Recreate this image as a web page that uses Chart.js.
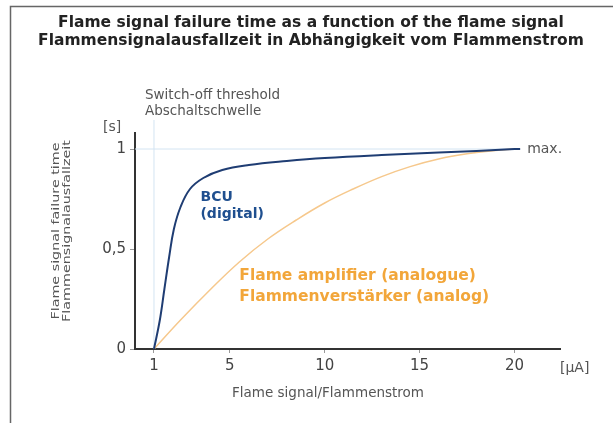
<!DOCTYPE html>
<html>
<head>
<meta charset="utf-8">
<script src="https://cdn.jsdelivr.net/npm/chart.js@4"></script>
<style>
  html, body { margin: 0; padding: 0; background: #fff; }
  #wrap { width: 613px; height: 423px; }
</style>
</head>
<body>
<div id="wrap"><canvas id="flameChart"></canvas></div>
<script>
// values
const bcuX = [1, 1.3, 1.55, 1.8, 2.05, 2.4, 2.9, 3.6, 4.6, 6, 8, 10, 13, 16, 18, 20, 20.3]
const bcuY = [0, 0.14, 0.3, 0.46, 0.6, 0.71, 0.8, 0.855, 0.895, 0.92, 0.94, 0.955, 0.97, 0.982, 0.99, 1, 1]
const ampX = [1, 2.4, 4, 5.5, 7, 8.5, 10, 11.5, 13, 14.5, 16, 17.5, 19, 20]
const ampY = [0, 0.145, 0.30, 0.435, 0.55, 0.645, 0.73, 0.80, 0.862, 0.912, 0.95, 0.976, 0.993, 1]
const thresholdX = [1, 1]
const thresholdY = [0, 1.145]
const maxLineX = [0, 20]
const maxLineY = [1, 1]
const xTicks = [1, 5, 10, 15, 20]
const yTicks = [0, 0.5, 1]
const yTickLabels = ['0', '0,5', '1']

const FONT = '"DejaVu Sans", sans-serif'
const blue = '#1f3d73'
const orange = '#f2a63a'
const lightBlue = '#d3e4f2'

function pts(xs, ys){
    return xs.map((x, i) => ({x: x, y: ys[i]}))
}

const textPlugin = {
    id: 'texts',
    beforeDraw(chart){
        const ctx = chart.ctx
        ctx.save()
        ctx.strokeStyle = '#666'
        ctx.lineWidth = 1.5
        ctx.beginPath()
        ctx.moveTo(10.5, 423)
        ctx.lineTo(10.5, 6.5)
        ctx.lineTo(613, 6.5)
        ctx.stroke()
        ctx.restore()
    },
    afterDraw(chart){
        const ctx = chart.ctx
        const xs = chart.scales.x
        const ys = chart.scales.y
        ctx.save()
        // title
        ctx.fillStyle = '#222'
        ctx.textAlign = 'center'
        ctx.textBaseline = 'middle'
        ctx.font = 'bold 15.5px ' + FONT
        ctx.fillText('Flame signal failure time as a function of the flame signal', 311, 23)
        ctx.fillText('Flammensignalausfallzeit in Abhängigkeit vom Flammenstrom', 311, 41)

        // threshold label
        ctx.fillStyle = '#555'
        ctx.font = '13.5px ' + FONT
        ctx.textAlign = 'left'
        ctx.fillText('Switch-off threshold', 145, 95)
        ctx.fillText('Abschaltschwelle', 145, 111)

        // unit labels
        ctx.font = '14px ' + FONT
        ctx.fillText('[s]', 103, 127)
        ctx.fillText('[µA]', 560, 368)
        ctx.fillText('max.', xs.getPixelForValue(20.3) + 7, ys.getPixelForValue(1))

        // x axis title
        ctx.textAlign = 'center'
        ctx.font = '13.5px ' + FONT
        ctx.fillText('Flame signal/Flammenstrom', 328, 393)

        // y axis title, stretched along the baseline like the narrow original
        ctx.save()
        ctx.translate(56, 231)
        ctx.rotate(-Math.PI / 2)
        ctx.scale(1.3, 1)
        ctx.font = '11px ' + FONT
        ctx.fillText('Flame signal failure time', 0, 0)
        ctx.fillText('Flammensignalausfallzeit', 0, 11)
        ctx.restore()

        // curve labels
        ctx.textAlign = 'left'
        ctx.font = 'bold 14px ' + FONT
        ctx.fillStyle = '#1f4f8f'
        ctx.fillText('BCU', xs.getPixelForValue(3.45), ys.getPixelForValue(0.76))
        ctx.fillText('(digital)', xs.getPixelForValue(3.45), ys.getPixelForValue(0.675))
        ctx.fillStyle = orange
        ctx.font = 'bold 15.5px ' + FONT
        ctx.fillText('Flame amplifier (analogue)', xs.getPixelForValue(5.5), ys.getPixelForValue(0.365))
        ctx.fillText('Flammenverstärker (analog)', xs.getPixelForValue(5.5), ys.getPixelForValue(0.26))
        ctx.restore()
    }
}

const data = {
    datasets: [
        {
            label: 'BCU (digital)',
            data: pts(bcuX, bcuY),
            borderColor: blue,
            borderWidth: 2,
            pointRadius: 0,
            tension: 0.4,
            fill: false
        },
        {
            label: 'Flame amplifier (analogue)',
            data: pts(ampX, ampY),
            borderColor: '#f6c88c',
            borderWidth: 1.5,
            pointRadius: 0,
            tension: 0.4,
            fill: false
        },
        {
            label: 'max',
            data: pts(maxLineX, maxLineY),
            borderColor: lightBlue,
            borderWidth: 1,
            pointRadius: 0
        },
        {
            label: 'threshold',
            data: pts(thresholdX, thresholdY),
            borderColor: lightBlue,
            borderWidth: 1,
            pointRadius: 0,
            clip: false
        }
    ]
}

const config = {
    type: 'line',
    data,
    plugins: [textPlugin],
    options: {
        responsive: true,
        maintainAspectRatio: false,
        animation: false,
        layout: { padding: { top: 133, right: 53, left: 0, bottom: 0 } },
        plugins: {
            legend: { display: false },
            tooltip: { enabled: false }
        },
        scales: {
            x: {
                type: 'linear',
                min: 0,
                max: 22.4,
                afterFit: scale => { scale.height = 74 },
                afterBuildTicks: scale => { scale.ticks = xTicks.map(v => ({value: v})) },
                border: { color: '#333', width: 2 },
                grid: { drawOnChartArea: false, tickLength: 4, color: '#999' },
                ticks: { color: '#444', font: { family: FONT, size: 15 }, padding: 4, maxRotation: 0 }
            },
            y: {
                min: 0,
                max: 1.08,
                afterFit: scale => { scale.width = 135 },
                afterBuildTicks: scale => { scale.ticks = yTicks.map(v => ({value: v})) },
                border: { color: '#333', width: 2 },
                grid: { drawOnChartArea: false, tickLength: 5, color: '#999' },
                ticks: {
                    color: '#444',
                    font: { family: FONT, size: 15 },
                    padding: 4,
                    callback: (v) => yTickLabels[yTicks.indexOf(v)]
                }
            }
        }
    }
}

new Chart(document.getElementById('flameChart'), config)
</script>
</body>
</html>
